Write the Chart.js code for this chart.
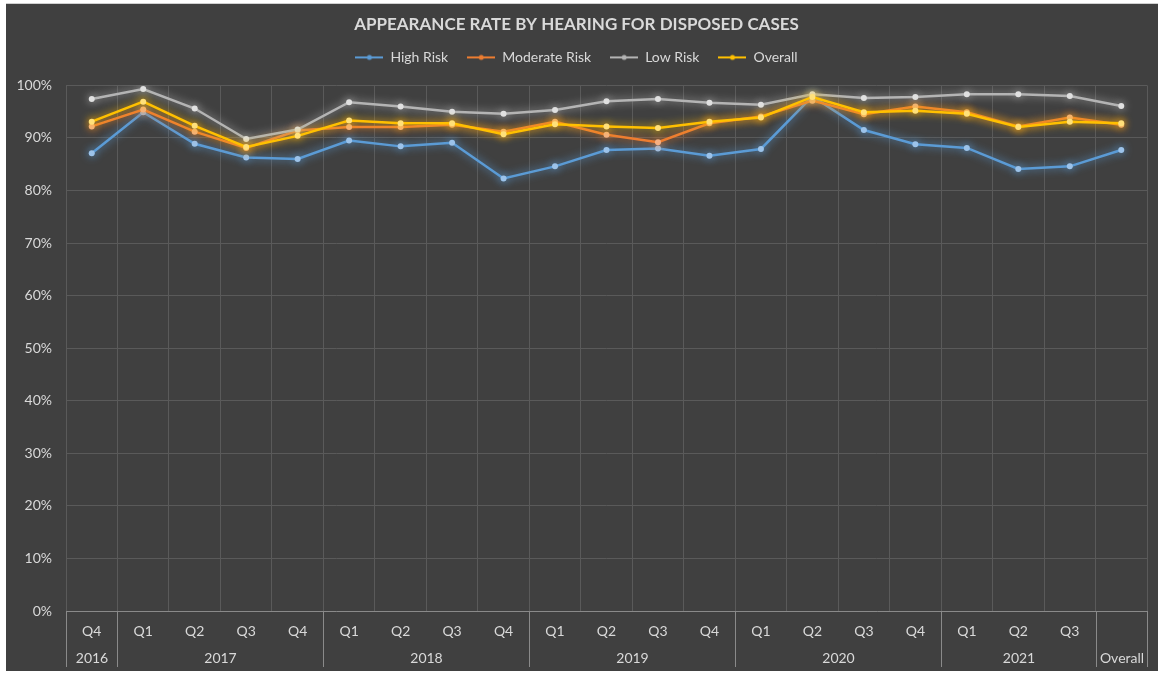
<!DOCTYPE html>
<html>
<head>
<meta charset="utf-8">
<script src="https://cdn.jsdelivr.net/npm/chart.js@4.4.1/dist/chart.umd.min.js"></script>
<style>
  html, body { margin: 0; padding: 0; background: #ffffff; }
  #panel {
    position: absolute; left: 6px; top: 3px; width: 1152px; height: 668px;
    background: #404040; border-top: 1px solid #d0d0d0; box-sizing: border-box;
  }
  canvas { display: block; }
</style>
</head>
<body>
<div id="panel"><canvas id="chart" width="1152" height="667"></canvas></div>
<script>
// Datos (porcentajes)
const quarters = ["Q4", "Q1", "Q2", "Q3", "Q4", "Q1", "Q2", "Q3", "Q4", "Q1", "Q2", "Q3", "Q4",
                  "Q1", "Q2", "Q3", "Q4", "Q1", "Q2", "Q3", ""];
const years = ["2016", "2017", "2018", "2019", "2020", "2021", "Overall"];
const yearSizes = [1, 4, 4, 4, 4, 3, 1];

const highRisk = [87.1, 94.9, 88.9, 86.3, 86.0, 89.5, 88.4, 89.1, 82.3, 84.6,
                  87.7, 88.0, 86.6, 87.9, 97.9, 91.5, 88.8, 88.1, 84.1, 84.6, 87.7];
const moderateRisk = [92.2, 95.4, 91.2, 88.1, 91.4, 92.1, 92.1, 92.5, 91.2, 93.1,
                      90.6, 89.2, 92.8, 94.1, 97.1, 94.5, 96.0, 94.9, 92.2, 93.9, 92.5];
const lowRisk = [97.4, 99.3, 95.6, 89.8, 91.6, 96.8, 96.0, 95.0, 94.6, 95.3,
                 97.0, 97.4, 96.7, 96.3, 98.3, 97.6, 97.8, 98.3, 98.3, 98.0, 96.1];
const overall = [93.1, 96.9, 92.3, 88.3, 90.4, 93.3, 92.8, 92.8, 90.7, 92.6,
                 92.2, 91.9, 93.1, 93.9, 97.8, 94.9, 95.2, 94.6, 92.1, 93.1, 92.8];

const TEXT = "#d9d9d9";
const GRID = "#5a5a5a";
const FONT = "Lato, 'Open Sans', sans-serif";

Chart.defaults.font.family = FONT;
Chart.defaults.color = TEXT;

// icono de leyenda: línea con punto al centro
function legendIcon(color) {
    const c = document.createElement("canvas");
    c.width = 28; c.height = 8;
    const g = c.getContext("2d");
    g.strokeStyle = color; g.lineWidth = 2;
    g.beginPath(); g.moveTo(0, 4); g.lineTo(28, 4); g.stroke();
    g.fillStyle = color;
    g.beginPath(); g.arc(14, 4, 2.5, 0, Math.PI * 2); g.fill();
    return c;
}

/* brillo alrededor de las líneas */
const glow = {
    id: "glow",
    beforeDatasetDraw(chart, args) {
        const ds = chart.data.datasets[args.index];
        chart.ctx.save();
        chart.ctx.shadowColor = ds.borderColor;
        chart.ctx.shadowBlur = 8;
    },
    afterDatasetDraw(chart) {
        chart.ctx.restore();
    }
};

/* espacio extra bajo la leyenda */
const legendGap = {
    id: "legendGap",
    beforeLayout(chart) {
        const lg = chart.legend;
        if (!lg || lg._gapPatched) return;
        const fit = lg.fit;
        lg.fit = function () {
            fit.call(this);
            this.height += 11;
        };
        lg._gapPatched = true;
    }
};

/* años agrupados bajo los trimestres */
const yearGroups = {
    id: "yearGroups",
    afterDraw(chart) {
        const { ctx, scales: { x } } = chart;
        ctx.save();
        ctx.strokeStyle = "#8a8a8a";
        ctx.lineWidth = 1;
        ctx.fillStyle = TEXT;
        ctx.font = "14px " + FONT;
        ctx.textAlign = "center";
        ctx.textBaseline = "middle";
        let start = 0;
        const edge = i => Math.round(x.getPixelForValue(i - 0.5)) + 0.5;
        ctx.beginPath();
        ctx.moveTo(edge(0), x.top); ctx.lineTo(edge(0), x.bottom - 1);
        ctx.stroke();
        years.forEach((y, k) => {
            const end = start + yearSizes[k];
            const a = edge(start), b = edge(end);
            ctx.beginPath();
            ctx.moveTo(b, x.top); ctx.lineTo(b, x.bottom - 1);
            ctx.stroke();
            ctx.fillText(y, (a + b) / 2, x.bottom - 10);
            start = end;
        });
        ctx.restore();
    }
};

const series = [
    { label: "High Risk", data: highRisk, color: "#5b9bd5", point: "#9cc3ea", order: 4 },
    { label: "Moderate Risk", data: moderateRisk, color: "#ed7d31", point: "#f5b083", order: 3 },
    { label: "Low Risk", data: lowRisk, color: "#b4b4b4", point: "#e0e0e0", order: 2 },
    { label: "Overall", data: overall, color: "#ffc000", point: "#ffe07a", order: 1 }
];

new Chart(document.getElementById("chart"), {
    type: "line",
    data: {
        labels: quarters,
        datasets: series.map(s => ({
            label: s.label,
            data: s.data,
            borderColor: s.color,
            backgroundColor: s.color,
            borderWidth: 2.5,
            pointRadius: 3,
            pointBackgroundColor: s.point,
            pointBorderWidth: 0,
            tension: 0,
            order: s.order
        }))
    },
    options: {
        responsive: false,
        animation: false,
        devicePixelRatio: 1,
        layout: { padding: { left: 0, right: 11, top: 6, bottom: 3 } },
        plugins: {
            title: {
                display: true,
                text: "APPEARANCE RATE BY HEARING FOR DISPOSED CASES",
                color: TEXT,
                font: { size: 17, weight: "bold" },
                padding: { top: 4, bottom: -3 }
            },
            legend: {
                position: "top",
                labels: {
                    color: TEXT,
                    font: { size: 14 },
                    usePointStyle: true,
                    pointStyleWidth: 28,
                    boxHeight: 8,
                    padding: 19,
                    generateLabels(chart) {
                        const items = Chart.defaults.plugins.legend.labels.generateLabels(chart);
                        items.sort((a, b) => a.datasetIndex - b.datasetIndex);
                        return items.map(it => {
                            it.pointStyle = legendIcon(series[it.datasetIndex].color);
                            it.fontColor = TEXT;
                            return it;
                        });
                    }
                }
            },
            tooltip: { enabled: false }
        },
        scales: {
            x: {
                offset: true,
                grid: { color: GRID, drawTicks: false, offset: true },
                border: { color: "#8a8a8a" },
                ticks: { color: TEXT, font: { size: 14 }, padding: 12, maxRotation: 0, autoSkip: false },
                afterFit(scale) { scale.height = 57; }
            },
            y: {
                min: 0, max: 100,
                grid: { color: GRID, drawTicks: false },
                border: { display: false },
                ticks: { stepSize: 10, color: TEXT, font: { size: 14 }, padding: 14,
                         callback: v => v + "%" },
                afterFit(scale) { scale.width = 60; }
            }
        }
    },
    plugins: [glow, legendGap, yearGroups]
});
</script>
</body>
</html>
